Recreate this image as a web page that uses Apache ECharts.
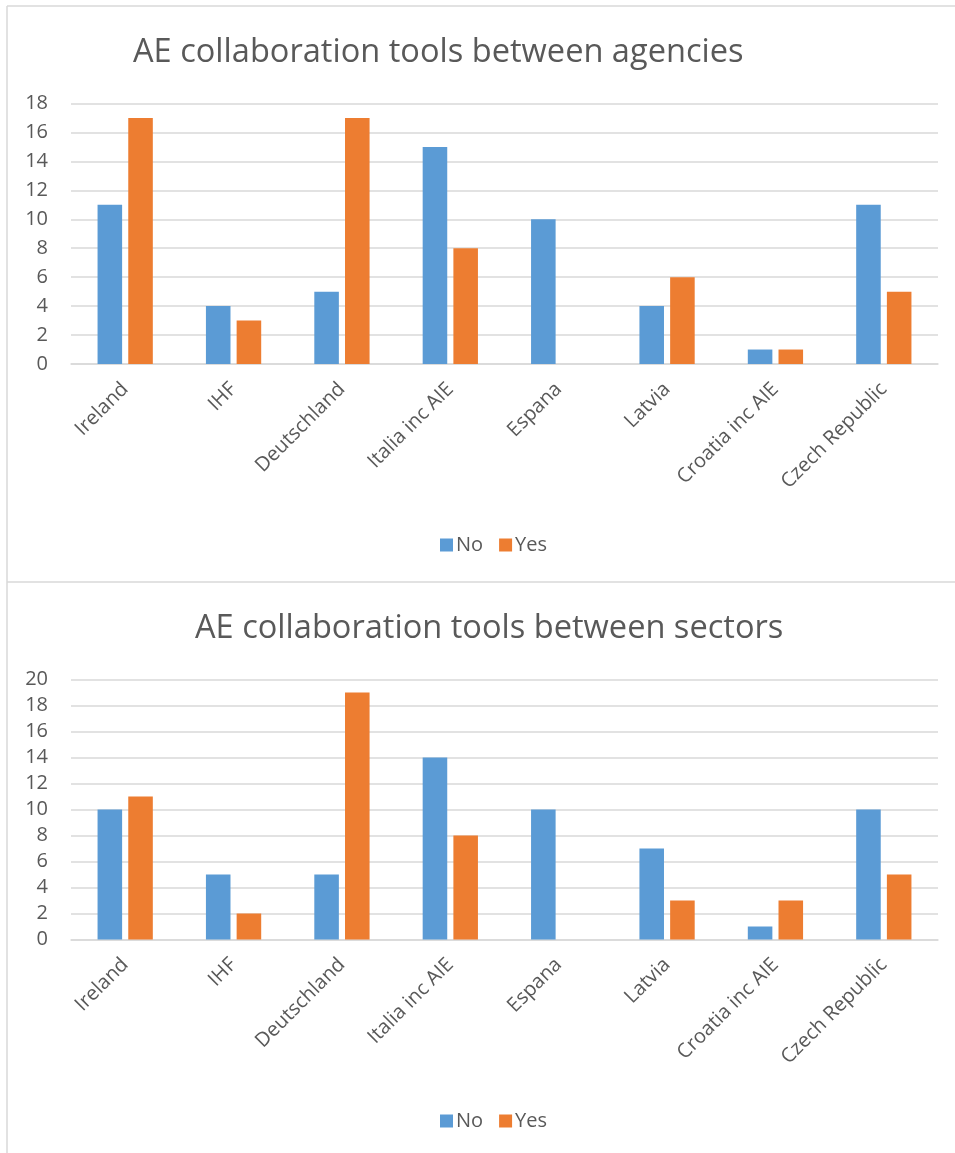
<!DOCTYPE html>
<html>
<head>
<meta charset="utf-8">
<script src="https://cdn.jsdelivr.net/npm/echarts@6/dist/echarts.min.js"></script>
<style>
  html, body { margin: 0; padding: 0; background: #fff; }
  #chart { width: 955px; height: 1153px; }
</style>
</head>
<body>
<div id="chart"></div>
<script>
// Categories shared by both panels
const categories = ['Ireland', 'IHF', 'Deutschland', 'Italia inc AIE', 'Espana', 'Latvia', 'Croatia inc AIE', 'Czech Republic'];

// Panel 1: collaboration tools between agencies
const agenciesTitle = 'AE collaboration tools between agencies';
const agenciesNo  = [11, 4, 5, 15, 10, 4, 1, 11];
const agenciesYes = [17, 3, 17, 8, 0, 6, 1, 5];

// Panel 2: collaboration tools between sectors
const sectorsTitle = 'AE collaboration tools between sectors';
const sectorsNo  = [10, 5, 5, 14, 10, 7, 1, 10];
const sectorsYes = [11, 2, 19, 8, 0, 3, 3, 5];

const seriesNames = ['No', 'Yes'];
const axisMax = [18, 20];

const BLUE = '#5B9BD5';
const ORANGE = '#ED7D31';
const TEXT = '#595959';
const GRID = '#D9D9D9';
const FONT = '"Open Sans", "Noto Sans", sans-serif';

const PANEL_SHIFT = 576;

function xAxisFor(gridIndex) {
  return {
    type: 'category',
    gridIndex: gridIndex,
    data: categories,
    axisTick: { show: false },
    axisLine: { lineStyle: { color: GRID, width: 1.5 } },
    axisLabel: {
      interval: 0,
      rotate: 45,
      margin: 22,
      color: TEXT,
      fontSize: 20,
      fontFamily: FONT
    }
  };
}

function yAxisFor(gridIndex, max) {
  return {
    type: 'value',
    gridIndex: gridIndex,
    min: 0,
    max: max,
    interval: 2,
    axisLine: { show: false },
    axisTick: { show: false },
    splitLine: { lineStyle: { color: GRID, width: 1.5 } },
    axisLabel: {
      margin: 23,
      color: TEXT,
      fontSize: 20,
      fontFamily: FONT
    }
  };
}

function barSeries(name, data, color, axisIndex) {
  return {
    name: name,
    type: 'bar',
    xAxisIndex: axisIndex,
    yAxisIndex: axisIndex,
    data: data,
    barGap: '25%',
    barCategoryGap: '49%',
    itemStyle: { color: color },
    emphasis: { disabled: true }
  };
}

function legendFor(top) {
  return {
    data: seriesNames,
    left: 435,
    top: top,
    icon: 'rect',
    itemWidth: 13,
    itemHeight: 13,
    itemGap: 16,
    textStyle: { color: TEXT, fontSize: 20, fontFamily: FONT, padding: [0, 0, 0, -2] }
  };
}

const chart = echarts.init(document.getElementById('chart'), null, { renderer: 'canvas' });

chart.setOption({
  backgroundColor: '#ffffff',
  animation: false,
  title: [
    {
      text: agenciesTitle,
      left: 128,
      top: 31,
      textStyle: { color: TEXT, fontSize: 32.6, fontWeight: 'normal', fontFamily: FONT }
    },
    {
      text: sectorsTitle,
      left: 190,
      top: 31 + PANEL_SHIFT,
      textStyle: { color: TEXT, fontSize: 32.6, fontWeight: 'normal', fontFamily: FONT }
    }
  ],
  legend: [legendFor(530), legendFor(530 + PANEL_SHIFT)],
  grid: [
    { left: 71, right: 17, top: 103.5, height: 260.5 },
    { left: 71, right: 17, top: 103.5 + PANEL_SHIFT, height: 260 }
  ],
  xAxis: [xAxisFor(0), xAxisFor(1)],
  yAxis: [yAxisFor(0, axisMax[0]), yAxisFor(1, axisMax[1])],
  series: [
    barSeries(seriesNames[0], agenciesNo, BLUE, 0),
    barSeries(seriesNames[1], agenciesYes, ORANGE, 0),
    barSeries(seriesNames[0], sectorsNo, BLUE, 1),
    barSeries(seriesNames[1], sectorsYes, ORANGE, 1)
  ],
  graphic: [
    // chart frames: outer top/left edges and the divider between the two panels
    { type: 'line', silent: true, shape: { x1: 7, y1: 6, x2: 955, y2: 6 }, style: { stroke: GRID, lineWidth: 1.5 } },
    { type: 'line', silent: true, shape: { x1: 7, y1: 6, x2: 7, y2: 1153 }, style: { stroke: GRID, lineWidth: 1.5 } },
    { type: 'line', silent: true, shape: { x1: 7, y1: 582, x2: 955, y2: 582 }, style: { stroke: GRID, lineWidth: 1.5 } }
  ]
});
</script>
</body>
</html>
